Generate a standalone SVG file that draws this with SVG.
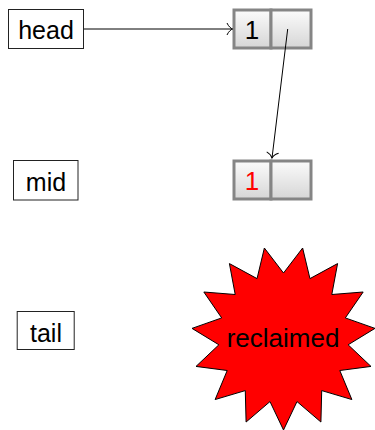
<svg xmlns="http://www.w3.org/2000/svg" width="375" height="430" viewBox="0 0 375 430">
  <style>
    .label { fill: #fff; stroke: #222; stroke-width: 1; }
    .txt { font-family: "Liberation Sans", Arial, sans-serif; font-size: 25px; text-anchor: middle; fill: #000; }
    .big { font-size: 26px; }
    .cell { fill: url(#cellFill); stroke: #858585; stroke-width: 3; }
    .edge { fill: none; stroke: #000; stroke-width: 1; }
  </style>
  <defs>
    <linearGradient id="cellFill" x1="0" y1="0" x2="0" y2="1">
      <stop offset="0" stop-color="#fbfbfb"/>
      <stop offset="1" stop-color="#d6d6d6"/>
    </linearGradient>
    <marker id="to" markerUnits="userSpaceOnUse" markerWidth="14" markerHeight="14" viewBox="-7 -7 14 14" refX="0" refY="0" orient="auto">
      <path d="M-5.5,-6 C-4,-2.5 -1.5,-0.6 0,0 C-1.5,0.6 -4,2.5 -5.5,6" fill="none" stroke="#000" stroke-width="1"/>
    </marker>
  </defs>

  <rect width="375" height="430" fill="#fff"/>

  <!-- pointer variables -->
  <g id="head">
    <rect class="label" x="8.5" y="9.5" width="75" height="39"/>
    <text class="txt" x="46" y="39">head</text>
  </g>
  <g id="mid">
    <rect class="label" x="13.5" y="160.5" width="64.5" height="39.5"/>
    <text class="txt" x="46" y="190.5">mid</text>
  </g>
  <g id="tail">
    <rect class="label" x="17.2" y="311.5" width="57" height="38"/>
    <text class="txt" x="46" y="341.5">tail</text>
  </g>

  <!-- list cells: value | next -->
  <g id="node1">
    <rect class="cell" x="234" y="10" width="37" height="38"/>
    <rect class="cell" x="271" y="10" width="40" height="38"/>
    <text class="txt big" x="252" y="39">1</text>
  </g>
  <g id="node2">
    <rect class="cell" x="234" y="161" width="37" height="38"/>
    <rect class="cell" x="271" y="161" width="40" height="38"/>
    <text class="txt big" x="252" y="190" style="fill:#ff0000">1</text>
  </g>

  <!-- freed cell -->
  <g id="reclaimed">
    <polygon fill="#ff0000" stroke="#000" stroke-width="1" stroke-linejoin="miter"
      points="283.5,430 269.99,401.58 246.08,422.04 245.29,390.59 215.13,399.56 227.21,370.5 196,366.43 218.86,344.79 192.01,328.39 221.68,317.91 203.83,292 235.2,294.51 229.42,263.57 257.06,278.62 264.37,248.01 283.5,273 302.63,248.01 309.94,278.62 337.58,263.57 331.8,294.51 363.17,292 345.32,317.91 374.99,328.39 348.14,344.79 371,366.43 339.79,370.5 351.87,399.56 321.71,390.59 320.92,422.04 297.01,401.58"/>
    <text class="txt big" x="283" y="347">reclaimed</text>
  </g>

  <g id="connectors">
    <line class="edge" x1="84" y1="29" x2="232.5" y2="29" marker-end="url(#to)"/>
    <line class="edge" x1="287.7" y1="29" x2="272" y2="158" marker-end="url(#to)"/>
  </g>
</svg>
